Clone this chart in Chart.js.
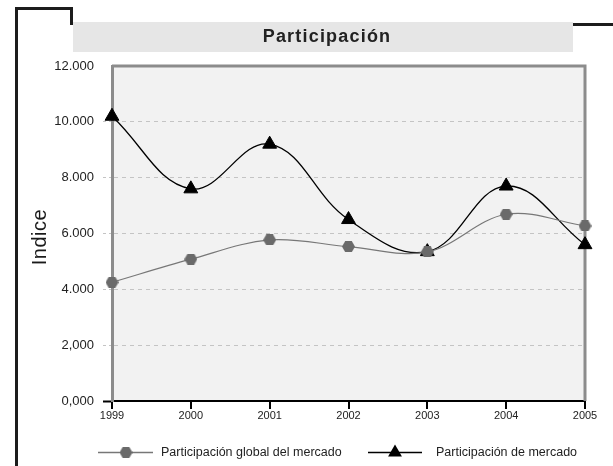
<!DOCTYPE html>
<html>
<head>
<meta charset="utf-8">
<script src="https://cdn.jsdelivr.net/npm/chart.js@4.4.1/dist/chart.umd.min.js"></script>
<style>
  html, body { margin: 0; padding: 0; background: #fff; }
  canvas { display: block; }
</style>
</head>
<body>
<canvas id="chart" width="613" height="466"></canvas>
<script>
const years = ["1999", "2000", "2001", "2002", "2003", "2004", "2005"];
const globalShare = [4250, 5080, 5770, 5530, 5340, 6690, 6270];
const marketShare = [10200, 7600, 9200, 6500, 5350, 7700, 5600];
const yTickLabels = ["0,000", "2,000", "4.000", "6.000", "8.000", "10.000", "12.000"];
const seriesNames = ["Participación global del mercado", "Participación de mercado"];
const chartTitle = "Participación";
const yTitle = "Indice";

const FONT = "'Liberation Sans', Arial, sans-serif";

// grey hexagon marker, drawn once and reused as a point style
function hexagon(w, color) {
  const c = document.createElement("canvas");
  const h = Math.round(w * 0.88);
  c.width = w;
  c.height = h;
  const g = c.getContext("2d");
  const r = w / 2;
  g.fillStyle = color;
  g.beginPath();
  for (let k = 0; k < 6; k++) {
    const a = k * Math.PI / 3;
    g.lineTo(r + r * Math.cos(a), h / 2 + r * Math.sin(a));
  }
  g.closePath();
  g.fill();
  return c;
}
const hexMarker = hexagon(13, "#6a6a6a");

const decor = {
  id: "decor",
  beforeDraw(chart) {
    const { ctx, chartArea: a } = chart;
    ctx.save();
    ctx.fillStyle = "#fff";
    ctx.fillRect(0, 0, chart.width, chart.height);
    ctx.fillStyle = "#f2f2f2";
    ctx.fillRect(a.left, a.top, a.right - a.left, a.bottom - a.top);

    // black bracket lines of the frame
    ctx.strokeStyle = "#1c1c1c";
    ctx.lineWidth = 3;
    ctx.beginPath();
    ctx.moveTo(16.5, chart.height);
    ctx.lineTo(16.5, 8.5);
    ctx.lineTo(71.5, 8.5);
    ctx.lineTo(71.5, 25);
    ctx.stroke();
    ctx.beginPath();
    ctx.moveTo(573, 24.5);
    ctx.lineTo(chart.width, 24.5);
    ctx.stroke();

    // title strip
    ctx.fillStyle = "#e6e6e6";
    ctx.fillRect(73, 22, 500, 30);
    ctx.fillStyle = "#222";
    ctx.font = "bold 18px " + FONT;
    ctx.letterSpacing = "1.2px";
    ctx.textAlign = "center";
    ctx.textBaseline = "middle";
    ctx.fillText(chartTitle, 327, 37.5);
    ctx.restore();
  },
  beforeDatasetsDraw(chart) {
    const { ctx, chartArea: a } = chart;
    ctx.save();
    ctx.strokeStyle = "#8c8c8c";
    ctx.lineWidth = 3;
    ctx.beginPath();
    ctx.moveTo(a.left, a.top);
    ctx.lineTo(a.right, a.top);
    ctx.lineTo(a.right, a.bottom);
    ctx.stroke();
    ctx.restore();
  },
  afterDraw(chart) {
    const { ctx } = chart;
    ctx.save();
    // y axis title
    ctx.translate(40, 237);
    ctx.rotate(-Math.PI / 2);
    ctx.fillStyle = "#1a1a1a";
    ctx.font = "20px " + FONT;
    ctx.letterSpacing = "0.5px";
    ctx.textAlign = "center";
    ctx.textBaseline = "middle";
    ctx.fillText(yTitle, 0, 0);
    ctx.restore();

    // legend
    ctx.save();
    const y = 452.5;
    ctx.font = "12.5px " + FONT;
    ctx.textBaseline = "middle";
    ctx.fillStyle = "#222";

    ctx.strokeStyle = "#777";
    ctx.lineWidth = 1.5;
    ctx.beginPath();
    ctx.moveTo(98, y);
    ctx.lineTo(153, y);
    ctx.stroke();
    ctx.drawImage(hexMarker, 126 - hexMarker.width / 2, y - hexMarker.height / 2);
    ctx.fillText(seriesNames[0], 161, y);

    ctx.strokeStyle = "#000";
    ctx.beginPath();
    ctx.moveTo(368, y);
    ctx.lineTo(422, y);
    ctx.stroke();
    ctx.fillStyle = "#000";
    const r = 8;
    ctx.beginPath();
    ctx.moveTo(395, y - r);
    ctx.lineTo(395 + r * Math.sin(2 * Math.PI / 3), y - r * Math.cos(2 * Math.PI / 3));
    ctx.lineTo(395 + r * Math.sin(4 * Math.PI / 3), y - r * Math.cos(4 * Math.PI / 3));
    ctx.closePath();
    ctx.fill();
    ctx.fillStyle = "#222";
    ctx.fillText(seriesNames[1], 436, y);
    ctx.restore();
  }
};

new Chart(document.getElementById("chart").getContext("2d"), {
  type: "line",
  data: {
    labels: years,
    datasets: [
      {
        label: seriesNames[0],
        data: globalShare,
        borderColor: "#777",
        borderWidth: 1.2,
        tension: 0.35,
        pointStyle: hexMarker,
        pointRadius: 7,
        clip: false,
      },
      {
        label: seriesNames[1],
        data: marketShare,
        borderColor: "#000",
        borderWidth: 1.3,
        tension: 0.4,
        pointStyle: "triangle",
        pointRadius: 8,
        pointBackgroundColor: "#000",
        pointBorderColor: "#000",
        pointBorderWidth: 1,
        clip: false,
      },
    ],
  },
  options: {
    responsive: false,
    animation: false,
    devicePixelRatio: 1,
    layout: { padding: { top: 66, right: 28, bottom: 35, left: 0 } },
    plugins: {
      legend: { display: false },
      tooltip: { enabled: false },
    },
    scales: {
      x: {
        offset: false,
        grid: {
          drawOnChartArea: false,
          color: "#000",
          lineWidth: 2,
          tickLength: 8,
        },
        border: { color: "#000", width: 2 },
        ticks: {
          color: "#222",
          font: { family: FONT, size: 11 },
          padding: 0,
          maxRotation: 0,
          autoSkip: false,
        },
        afterFit(scale) { scale.height = 30; },
      },
      y: {
        min: 0,
        max: 12000,
        grid: {
          color: (c) => (c.tick && (c.tick.value === 0 || c.tick.value === 12000)) ? "rgba(0,0,0,0)" : "#c4c4c4",
          lineWidth: 1,
          tickLength: 9,
          tickColor: (c) => c.tick && c.tick.value === 0 ? "#000" : (c.tick && c.tick.value === 12000 ? "rgba(0,0,0,0)" : "#c4c4c4"),
          tickWidth: (c) => c.tick && c.tick.value === 0 ? 2 : 1,
          tickBorderDash: (c) => c.tick && c.tick.value === 0 ? [] : [3, 3],
        },
        border: { color: "#8c8c8c", width: 3, dash: [4, 4] },
        ticks: {
          stepSize: 2000,
          color: "#222",
          font: { family: FONT, size: 13 },
          padding: 9,
          callback: (v, i) => yTickLabels[i],
        },
        afterFit(scale) { scale.width = 112; },
      },
    },
  },
  plugins: [decor],
});
</script>
</body>
</html>
